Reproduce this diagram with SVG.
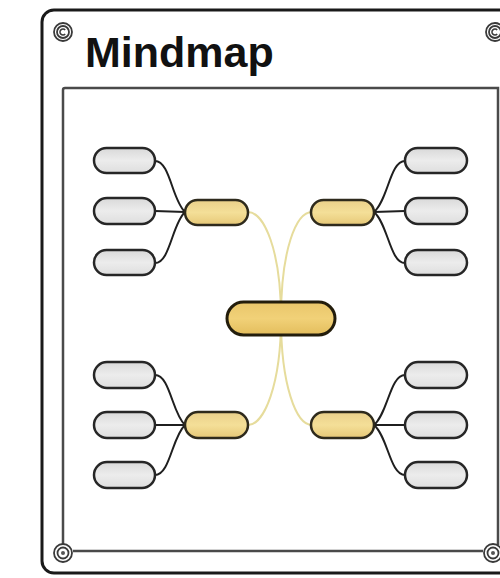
<svg xmlns="http://www.w3.org/2000/svg" width="500" height="578" viewBox="0 0 500 578">
  <defs>
    <linearGradient id="gLeaf" x1="0" y1="0" x2="0" y2="1">
      <stop offset="0" stop-color="#d9d9d9"/>
      <stop offset="0.5" stop-color="#ececec"/>
      <stop offset="1" stop-color="#dedede"/>
    </linearGradient>
    <linearGradient id="gBranch" x1="0" y1="0" x2="0" y2="1">
      <stop offset="0" stop-color="#ead08a"/>
      <stop offset="0.5" stop-color="#f4df98"/>
      <stop offset="1" stop-color="#e6c877"/>
    </linearGradient>
    <linearGradient id="gCenter" x1="0" y1="0" x2="0" y2="1">
      <stop offset="0" stop-color="#e9c66a"/>
      <stop offset="0.5" stop-color="#f1d178"/>
      <stop offset="1" stop-color="#e3bd5c"/>
    </linearGradient>
  </defs>
  <style>
    .leaf { fill: url(#gLeaf); stroke: #262626; stroke-width: 2.5; }
    .branch { fill: url(#gBranch); stroke: #2e2a1c; stroke-width: 2.5; }
    .center { fill: url(#gCenter); stroke: #231d0c; stroke-width: 3; }
    .link { fill: none; stroke: #1f1f1f; stroke-width: 2; }
    .main { fill: none; stroke: #e6dc9c; stroke-width: 2; }
    .frame { fill: #ffffff; stroke: #1a1a1a; stroke-width: 3; }
    .panel { fill: none; stroke: #4a4a4a; stroke-width: 2.5; }
    .screw { fill: #ffffff; stroke: #3a3a3a; stroke-width: 1.8; }
    .title { font-family: "Liberation Sans", Arial, sans-serif; font-weight: bold; font-size: 43px; fill: #111111; }
  </style>
  <rect width="500" height="578" fill="#ffffff"/>
  <g id="frame">
    <rect class="frame" x="42" y="10" width="474" height="563" rx="12"/>
    <path class="panel" d="M63,544 L63,90 Q63,88 65,88 L498,88 L498,545"/>
    <path class="panel" d="M73,551 L483,551"/>
    <g id="screw-tl">
      <circle class="screw" cx="63" cy="32" r="9"/>
      <circle class="screw" cx="63" cy="32" r="6"/>
      <path d="M65.2,30 A3,3 0 1 0 65.2,34" fill="none" stroke="#3a3a3a" stroke-width="1.5"/>
    </g>
    <g id="screw-tr">
      <circle class="screw" cx="495" cy="32" r="9"/>
      <circle class="screw" cx="495" cy="32" r="6"/>
      <path d="M497.2,30 A3,3 0 1 0 497.2,34" fill="none" stroke="#3a3a3a" stroke-width="1.5"/>
    </g>
    <g id="screw-bl">
      <circle class="screw" cx="63" cy="553" r="9"/>
      <circle class="screw" cx="63" cy="553" r="5.5"/>
      <circle cx="63" cy="553" r="2" fill="#555555"/>
    </g>
    <g id="screw-br">
      <circle class="screw" cx="493" cy="553" r="9"/>
      <circle class="screw" cx="493" cy="553" r="5.5"/>
      <circle cx="493" cy="553" r="2" fill="#555555"/>
    </g>
    <text class="title" x="85" y="67">Mindmap</text>
  </g>
  <g id="connectors">
    <path class="main" d="M248,212 C264,212 281,250 281,318"/>
    <path class="main" d="M312,212 C296,212 281,250 281,318"/>
    <path class="main" d="M281,318 C281,385 264,425 248,425"/>
    <path class="main" d="M281,318 C281,385 296,425 312,425"/>
    <path class="link" d="M155,161 C170,161 172,200 185,212"/>
    <path class="link" d="M155,211 L185,212"/>
    <path class="link" d="M155,263 C170,263 172,224 185,212"/>
    <path class="link" d="M155,375 C170,375 172,413 185,425"/>
    <path class="link" d="M155,425 L185,425"/>
    <path class="link" d="M155,475 C170,475 172,437 185,425"/>
    <path class="link" d="M405,161 C390,161 388,200 374,212"/>
    <path class="link" d="M405,211 L374,212"/>
    <path class="link" d="M405,263 C390,263 388,224 374,212"/>
    <path class="link" d="M405,375 C390,375 388,413 374,425"/>
    <path class="link" d="M405,425 L374,425"/>
    <path class="link" d="M405,475 C390,475 388,437 374,425"/>
  </g>
  <g id="center"><rect class="center" x="227" y="302" width="108" height="33" rx="16.5"/></g>
  <g id="branch-tl"><rect class="branch" x="185" y="200" width="63" height="25" rx="12.5"/></g>
  <g id="branch-tr"><rect class="branch" x="311" y="200" width="63" height="25" rx="12.5"/></g>
  <g id="branch-bl"><rect class="branch" x="185" y="412" width="63" height="26" rx="13"/></g>
  <g id="branch-br"><rect class="branch" x="311" y="412" width="63" height="26" rx="13"/></g>
  <g id="leaf-tl1"><rect class="leaf" x="94" y="148" width="61" height="25" rx="12.5"/></g>
  <g id="leaf-tl2"><rect class="leaf" x="94" y="198" width="61" height="26" rx="13"/></g>
  <g id="leaf-tl3"><rect class="leaf" x="94" y="250" width="61" height="25" rx="12.5"/></g>
  <g id="leaf-bl1"><rect class="leaf" x="94" y="362" width="61" height="26" rx="13"/></g>
  <g id="leaf-bl2"><rect class="leaf" x="94" y="412" width="61" height="26" rx="13"/></g>
  <g id="leaf-bl3"><rect class="leaf" x="94" y="462" width="61" height="26" rx="13"/></g>
  <g id="leaf-tr1"><rect class="leaf" x="405" y="148" width="62" height="25" rx="12.5"/></g>
  <g id="leaf-tr2"><rect class="leaf" x="405" y="198" width="62" height="26" rx="13"/></g>
  <g id="leaf-tr3"><rect class="leaf" x="405" y="250" width="62" height="25" rx="12.5"/></g>
  <g id="leaf-br1"><rect class="leaf" x="405" y="362" width="62" height="26" rx="13"/></g>
  <g id="leaf-br2"><rect class="leaf" x="405" y="412" width="62" height="26" rx="13"/></g>
  <g id="leaf-br3"><rect class="leaf" x="405" y="462" width="62" height="26" rx="13"/></g>
</svg>
